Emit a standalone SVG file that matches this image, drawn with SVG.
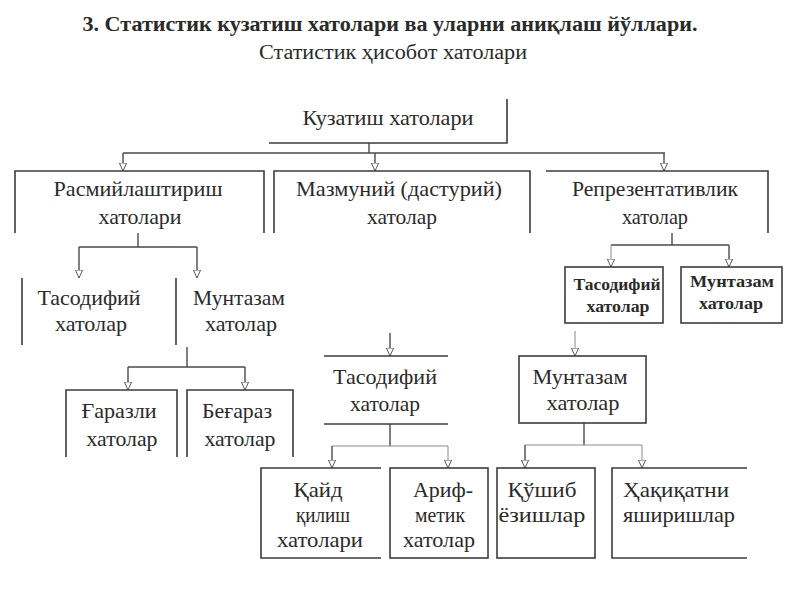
<svg xmlns="http://www.w3.org/2000/svg" width="800" height="600" viewBox="0 0 800 600">
<style>
  text { font-family: "Liberation Serif", "Times New Roman", serif; fill: #2a2a2a; text-anchor: middle; }
  .t { font-size: 22px; }
  .s { font-size: 17px; font-weight: bold; }
  .title { font-size: 20px; font-weight: bold; }
  .sub { font-size: 20px; }
  .edge { fill: none; stroke: #3c3c3c; stroke-width: 1.6; }
  .box { fill: none; stroke: #3c3c3c; stroke-width: 1.6; }
  .c { fill: none; stroke: #4a4a4a; stroke-width: 1.4; }
  .cl { fill: none; stroke: #8a8a8a; stroke-width: 1; }
  .a { marker-end: url(#arr); }
</style>
<defs>
  <marker id="arr" viewBox="0 0 10 10" refX="10" refY="5" markerWidth="8" markerHeight="8" markerUnits="userSpaceOnUse" orient="auto">
    <path d="M0,0.5 L10,5 L0,9.5 z" fill="#ffffff" stroke="#555" stroke-width="1.2"/>
  </marker>
</defs>
<rect x="0" y="0" width="800" height="600" fill="#ffffff"/>

<g id="title">
  <text class="title" x="390" y="31" textLength="615" lengthAdjust="spacingAndGlyphs">3. Статистик кузатиш хатолари ва уларни аниқлаш йўллари.</text>
  <text class="sub" x="393" y="59" textLength="268" lengthAdjust="spacingAndGlyphs">Статистик ҳисобот хатолари</text>
</g>

<g id="connectors">
  <path class="c" d="M369,143 V153"/>
  <path class="c" d="M123,153 H665"/>
  <path class="c a" d="M123,153 V171"/>
  <path class="c a" d="M375,153 V171"/>
  <path class="c a" d="M664,153 V171"/>

  <path class="c" d="M138,233 V247 M79,247 H197"/>
  <path class="c a" d="M79,247 V278"/>
  <path class="c a" d="M197,247 V278"/>

  <path class="c" d="M187,347 V367 M128,367 H245"/>
  <path class="c a" d="M128,367 V390"/>
  <path class="c a" d="M245,367 V390"/>

  <path class="c" d="M672,233 V245"/>
  <path class="c" d="M611,245 H729"/>
  <path class="cl a" d="M611,245 V267"/>
  <path class="c a" d="M729,245 V267"/>

  <path class="c a" d="M390,333 V356"/>
  <path class="cl a" d="M575,331 V356"/>

  <path class="c" d="M390,424 V446"/>
  <path class="cl" d="M332,446 H448"/>
  <path class="c a" d="M332,446 V468"/>
  <path class="cl a" d="M448,446 V468"/>

  <path class="c" d="M584,423 V445"/>
  <path class="cl" d="M525,445 H642"/>
  <path class="c a" d="M525,445 V468"/>
  <path class="cl a" d="M642,445 V468"/>
</g>

<g id="kuzatish">
  <path class="edge" d="M507,99 V143 H269"/>
  <text class="t" x="388" y="125" textLength="171" lengthAdjust="spacingAndGlyphs">Кузатиш хатолари</text>
</g>

<g id="rasmiy">
  <path class="edge" d="M15,233 V171 H264 V233"/>
  <text class="t" x="138" y="196" textLength="169" lengthAdjust="spacingAndGlyphs">Расмийлаштириш</text>
  <text class="t" x="140" y="224" textLength="83" lengthAdjust="spacingAndGlyphs">хатолари</text>
</g>

<g id="mazmuniy">
  <path class="edge" d="M274,233 V171 H530 V233"/>
  <text class="t" x="399" y="196" textLength="206" lengthAdjust="spacingAndGlyphs">Мазмуний (дастурий)</text>
  <text class="t" x="402" y="224" textLength="70" lengthAdjust="spacingAndGlyphs">хатолар</text>
</g>

<g id="reprezentativ">
  <path class="edge" d="M546,171 H768 V233"/>
  <text class="t" x="655" y="196" textLength="166" lengthAdjust="spacingAndGlyphs">Репрезентативлик</text>
  <text class="t" x="655" y="224" textLength="66" lengthAdjust="spacingAndGlyphs">хатолар</text>
</g>

<g id="tasodifiy1">
  <path class="edge" d="M22,278 V345 M176,278 V345"/>
  <text class="t" x="89" y="305" textLength="103" lengthAdjust="spacingAndGlyphs">Тасодифий</text>
  <text class="t" x="91" y="331" textLength="72" lengthAdjust="spacingAndGlyphs">хатолар</text>
</g>

<g id="muntazam1">
  <text class="t" x="239" y="305" textLength="92" lengthAdjust="spacingAndGlyphs">Мунтазам</text>
  <text class="t" x="241" y="331" textLength="72" lengthAdjust="spacingAndGlyphs">хатолар</text>
</g>

<g id="garazli">
  <path class="edge" d="M66,457 V390 H177 V457"/>
  <text class="t" x="119" y="418" textLength="75" lengthAdjust="spacingAndGlyphs">Ғаразли</text>
  <text class="t" x="122" y="446" textLength="71" lengthAdjust="spacingAndGlyphs">хатолар</text>
</g>

<g id="begaraz">
  <path class="edge" d="M187,457 V390 H293 V457"/>
  <text class="t" x="237" y="418" textLength="70" lengthAdjust="spacingAndGlyphs">Беғараз</text>
  <text class="t" x="240" y="446" textLength="71" lengthAdjust="spacingAndGlyphs">хатолар</text>
</g>

<g id="tasodifiy2">
  <path class="edge" d="M324,356 H448 M324,424 H448"/>
  <text class="t" x="385" y="384" textLength="104" lengthAdjust="spacingAndGlyphs">Тасодифий</text>
  <text class="t" x="385" y="411" textLength="70" lengthAdjust="spacingAndGlyphs">хатолар</text>
</g>

<g id="muntazam2">
  <rect class="box" x="519" y="356" width="127" height="67"/>
  <text class="t" x="580" y="384" textLength="95" lengthAdjust="spacingAndGlyphs">Мунтазам</text>
  <text class="t" x="583" y="410" textLength="73" lengthAdjust="spacingAndGlyphs">хатолар</text>
</g>

<g id="tasodifiy3">
  <rect class="box" x="565" y="267" width="98" height="56"/>
  <text class="s" x="617" y="290" textLength="87" lengthAdjust="spacingAndGlyphs">Тасодифий</text>
  <text class="s" x="618" y="312" textLength="63" lengthAdjust="spacingAndGlyphs">хатолар</text>
</g>

<g id="muntazam3">
  <rect class="box" x="681" y="267" width="101" height="56"/>
  <text class="s" x="732" y="287" textLength="84" lengthAdjust="spacingAndGlyphs">Мунтазам</text>
  <text class="s" x="731" y="309" textLength="64" lengthAdjust="spacingAndGlyphs">хатолар</text>
</g>

<g id="qayd">
  <path class="edge" d="M381,468 H261 V558 H381"/>
  <text class="t" x="318" y="497" textLength="49" lengthAdjust="spacingAndGlyphs">Қайд</text>
  <text class="t" x="323" y="522" textLength="54" lengthAdjust="spacingAndGlyphs">қилиш</text>
  <text class="t" x="320" y="547" textLength="86" lengthAdjust="spacingAndGlyphs">хатолари</text>
</g>

<g id="arifmetik">
  <rect class="box" x="390" y="468" width="98" height="90"/>
  <text class="t" x="443" y="497" textLength="60" lengthAdjust="spacingAndGlyphs">Ариф-</text>
  <text class="t" x="440" y="522" textLength="50" lengthAdjust="spacingAndGlyphs">метик</text>
  <text class="t" x="439" y="547" textLength="72" lengthAdjust="spacingAndGlyphs">хатолар</text>
</g>

<g id="qushib">
  <rect class="box" x="497" y="468" width="98" height="90"/>
  <text class="t" x="542" y="497" textLength="69" lengthAdjust="spacingAndGlyphs">Қўшиб</text>
  <text class="t" x="542" y="522" textLength="87" lengthAdjust="spacingAndGlyphs">ёзишлар</text>
</g>

<g id="haqiqatni">
  <path class="edge" d="M747,468 H612 V558 H747"/>
  <text class="t" x="676" y="497" textLength="106" lengthAdjust="spacingAndGlyphs">Ҳақиқатни</text>
  <text class="t" x="679" y="522" textLength="112" lengthAdjust="spacingAndGlyphs">яширишлар</text>
</g>
</svg>
